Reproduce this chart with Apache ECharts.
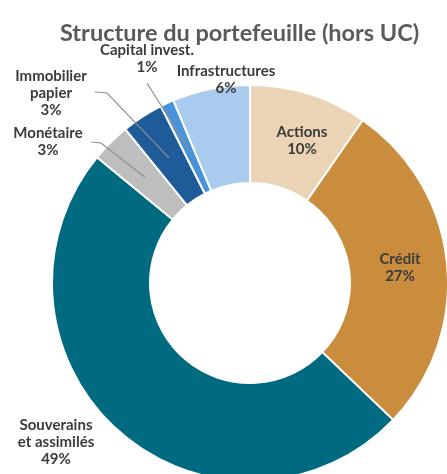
<!DOCTYPE html>
<html>
<head>
<meta charset="utf-8">
<script src="https://cdn.jsdelivr.net/npm/echarts@6/dist/echarts.min.js"></script>
<style>
  html, body { margin: 0; padding: 0; background: #fff; }
  #chart { width: 447px; height: 474px; }
</style>
</head>
<body>
<div id="chart"></div>
<script>
var categories = ['Actions', 'Crédit', 'Souverains\net assimilés', 'Monétaire', 'Immobilier\npapier', 'Capital invest.', 'Infrastructures'];
var values = [9.6, 27.4, 48.6, 3.2, 3.4, 1.1, 6.3];

var colors = ['#EAD4B5', '#C98D3D', '#006A80', '#BEBEBE', '#1F5B98', '#4A93DA', '#A9CCEE'];
// where each label block is centred, and where a leader line starts (null = no line)
var labelPos = [[302, 141], [400, 268], [56, 442], [48, 142], [51, 93], [147, 59], [226, 80]];
var lineStart = [null, null, null, [[91, 142], [101, 143]], [[95, 92], [107, 93]], [[147, 83], [147, 83]], null];

var cx = 250, cy = 283, r0 = 100, r1 = 198;

var total = values.reduce(function (a, b) { return a + b; }, 0);
// middle of the slice, halfway through the ring
function midAnchor(i) {
    var before = 0;
    for (var k = 0; k < i; k++) before += values[k];
    var a = (before + values[i] / 2) / total * Math.PI * 2;
    var r = (r0 + r1) / 2;
    return [cx + r * Math.sin(a), cy - r * Math.cos(a)];
}

var data = categories.map(function (name, i) {
    return {
        name: name,
        value: values[i],
        itemStyle: { color: colors[i] },
        labelLine: { show: lineStart[i] !== null }
    };
});

var dom = document.getElementById('chart');
var myChart = echarts.init(dom);
var option = {
    backgroundColor: '#fff',
    animation: false,
    title: {
        text: 'Structure du portefeuille (hors UC)',
        left: 55,
        top: 16,
        textStyle: {
            fontFamily: 'Lato',
            fontWeight: 'bold',
            fontSize: 23.5,
            color: '#5a5a5a'
        }
    },
    series: [{
        type: 'pie',
        center: [cx, cy],
        radius: [r0, r1],
        startAngle: 90,
        clockwise: true,
        avoidLabelOverlap: false,
        itemStyle: { borderColor: '#fff', borderWidth: 2 },
        label: {
            show: true,
            position: 'outside',
            fontFamily: 'Lato',
            fontWeight: 'bold',
            fontSize: 15,
            lineHeight: 17,
            color: '#3b3b3b',
            align: 'center',
            formatter: function (p) {
                return p.name + '\n' + Math.round(p.value) + '%';
            }
        },
        labelLine: {
            showAbove: true,
            lineStyle: { color: '#8f8f8f', width: 1.2 }
        },
        labelLayout: function (params) {
            var i = params.dataIndex;
            var res = {
                x: labelPos[i][0],
                y: labelPos[i][1],
                align: 'center',
                verticalAlign: 'middle'
            };
            if (lineStart[i]) {
                res.labelLinePoints = [lineStart[i][0], lineStart[i][1], midAnchor(i)];
            }
            return res;
        },
        data: data
    }]
};
myChart.setOption(option);

// showAbove does not lift the lines here, so put them over the sectors by hand
myChart.getZr().storage.getDisplayList(true).forEach(function (el) {
    if (el.type === 'polyline') {
        el.z2 = 10;
        el.markRedraw();
    }
});
window.onresize = myChart.resize;
</script>
</body>
</html>
